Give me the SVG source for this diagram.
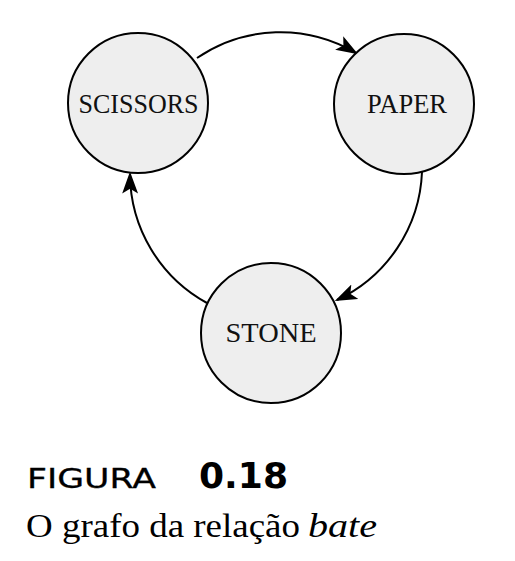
<svg xmlns="http://www.w3.org/2000/svg" width="515" height="561" viewBox="0 0 515 561">
<style>
.node circle{fill:#eeeeee;stroke:#000;stroke-width:2}
.node text{font-family:"Liberation Serif",serif;font-size:28px;fill:#111;text-anchor:middle}
.edge{fill:none;stroke:#000;stroke-width:2;marker-end:url(#arr)}
.cap1{font-family:"DejaVu Sans",sans-serif;font-size:26px;fill:#000;stroke:#000;stroke-width:0.3}
.cap2{font-family:"DejaVu Sans",sans-serif;font-weight:bold;font-size:36px;fill:#000}
.cap3{font-family:"Liberation Serif",serif;font-size:34px;fill:#000}
</style>
<defs>
<marker id="arr" markerUnits="userSpaceOnUse" markerWidth="22" markerHeight="18" viewBox="0 0 18 13" refX="16" refY="6.5" orient="auto">
<path d="M0,0 L18,6.5 L0,13 L4,6.5 z" fill="#000"/>
</marker>
</defs>
<g id="connectors">
<path class="edge" d="M197,58 A148,148 0 0 1 356,53"/>
<path class="edge" d="M422,172 A148,148 0 0 1 337,300"/>
<path class="edge" d="M207,303 A148,148 0 0 1 130,174"/>
</g>
<g id="scissors" class="node">
<circle cx="138" cy="103" r="70"/>
<text x="138.5" y="113" textLength="120" lengthAdjust="spacingAndGlyphs">SCISSORS</text>
</g>
<g id="paper" class="node">
<circle cx="404" cy="104" r="70"/>
<text x="407" y="113" textLength="80" lengthAdjust="spacingAndGlyphs">PAPER</text>
</g>
<g id="stone" class="node">
<circle cx="271" cy="333" r="70"/>
<text x="271" y="342" textLength="91" lengthAdjust="spacingAndGlyphs">STONE</text>
</g>
<g id="caption">
<text class="cap1" x="27" y="488" textLength="129" lengthAdjust="spacingAndGlyphs">FIGURA</text>
<text class="cap2" x="199" y="488" textLength="89" lengthAdjust="spacingAndGlyphs">0.18</text>
<text class="cap3" x="26" y="537" textLength="274" lengthAdjust="spacingAndGlyphs">O grafo da relação</text>
<text class="cap3" x="308" y="537" font-style="italic" textLength="69" lengthAdjust="spacingAndGlyphs">bate</text>
</g>
</svg>
